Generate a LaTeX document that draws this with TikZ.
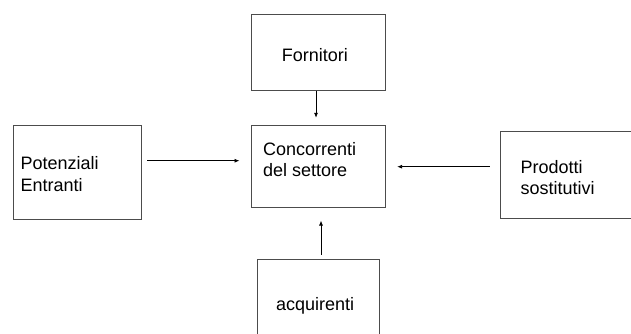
\documentclass[tikz,border=0pt]{standalone}
\usepackage{fontspec}
\setmainfont{Liberation Sans}
\usetikzlibrary{arrows.meta}
\begin{document}
\begin{tikzpicture}[x=1pt,y=-1pt,
  box/.style={draw=black!70,line width=0.9pt,rectangle,inner sep=0pt},
  lbl/.style={anchor=base west,inner sep=0pt,font=\fontsize{18}{21}\selectfont,align=left},
  arr/.style={line width=0.8pt,-{Latex[length=5pt,width=4pt]}}]
\useasboundingbox (0,0) rectangle (631,333);
\clip (0,0) rectangle (631,333);
\fill[white] (0,0) rectangle (631,333);
% boxes
\node[box,minimum width=133.3pt,minimum height=75.7pt] (forn) at (318.3,52.2) {};
\node[box,minimum width=133.5pt,minimum height=81.3pt] (conc) at (318.2,166.4) {};
\node[box,minimum width=128.4pt,minimum height=94pt] (pot) at (77.5,172) {};
\node[box,minimum width=135pt,minimum height=86.6pt] (prod) at (568.2,175) {};
\node[box,minimum width=122pt,minimum height=90pt] (acq) at (318.3,304.3) {};
% labels
\node[lbl] (tforn) at (281.7,61) {Fornitori};
\node[lbl] (tconc1) at (262.8,155) {Concorrenti};
\node[lbl] (tconc2) at (262.8,176.7) {del settore};
\node[lbl] (tpot1) at (20.5,169.5) {Potenziali};
\node[lbl] (tpot2) at (20.5,191) {Entranti};
\node[lbl] (tprod1) at (520.5,173.3) {Prodotti};
\node[lbl] (tprod2) at (520.5,194.5) {sostitutivi};
\node[lbl] (tacq) at (276,310) {acquirenti};
% connectors
\coordinate (ya) at (0,160.7);
\coordinate (yb) at (0,166.7);
\coordinate (xa) at (316,0);
\coordinate (xb) at (321,0);
\draw[arr,shorten >=7.5pt] (forn.south -| xa) -- (conc.north -| xa);
\draw[arr,shorten <=5pt,shorten >=11.5pt] (pot.east |- ya) -- (conc.west |- ya);
\draw[arr,shorten <=10.7pt,shorten >=11.7pt] (prod.west |- yb) -- (conc.east |- yb);
\draw[arr,shorten <=4.3pt,shorten >=13pt] (acq.north -| xb) -- (conc.south -| xb);
\end{tikzpicture}
\end{document}
